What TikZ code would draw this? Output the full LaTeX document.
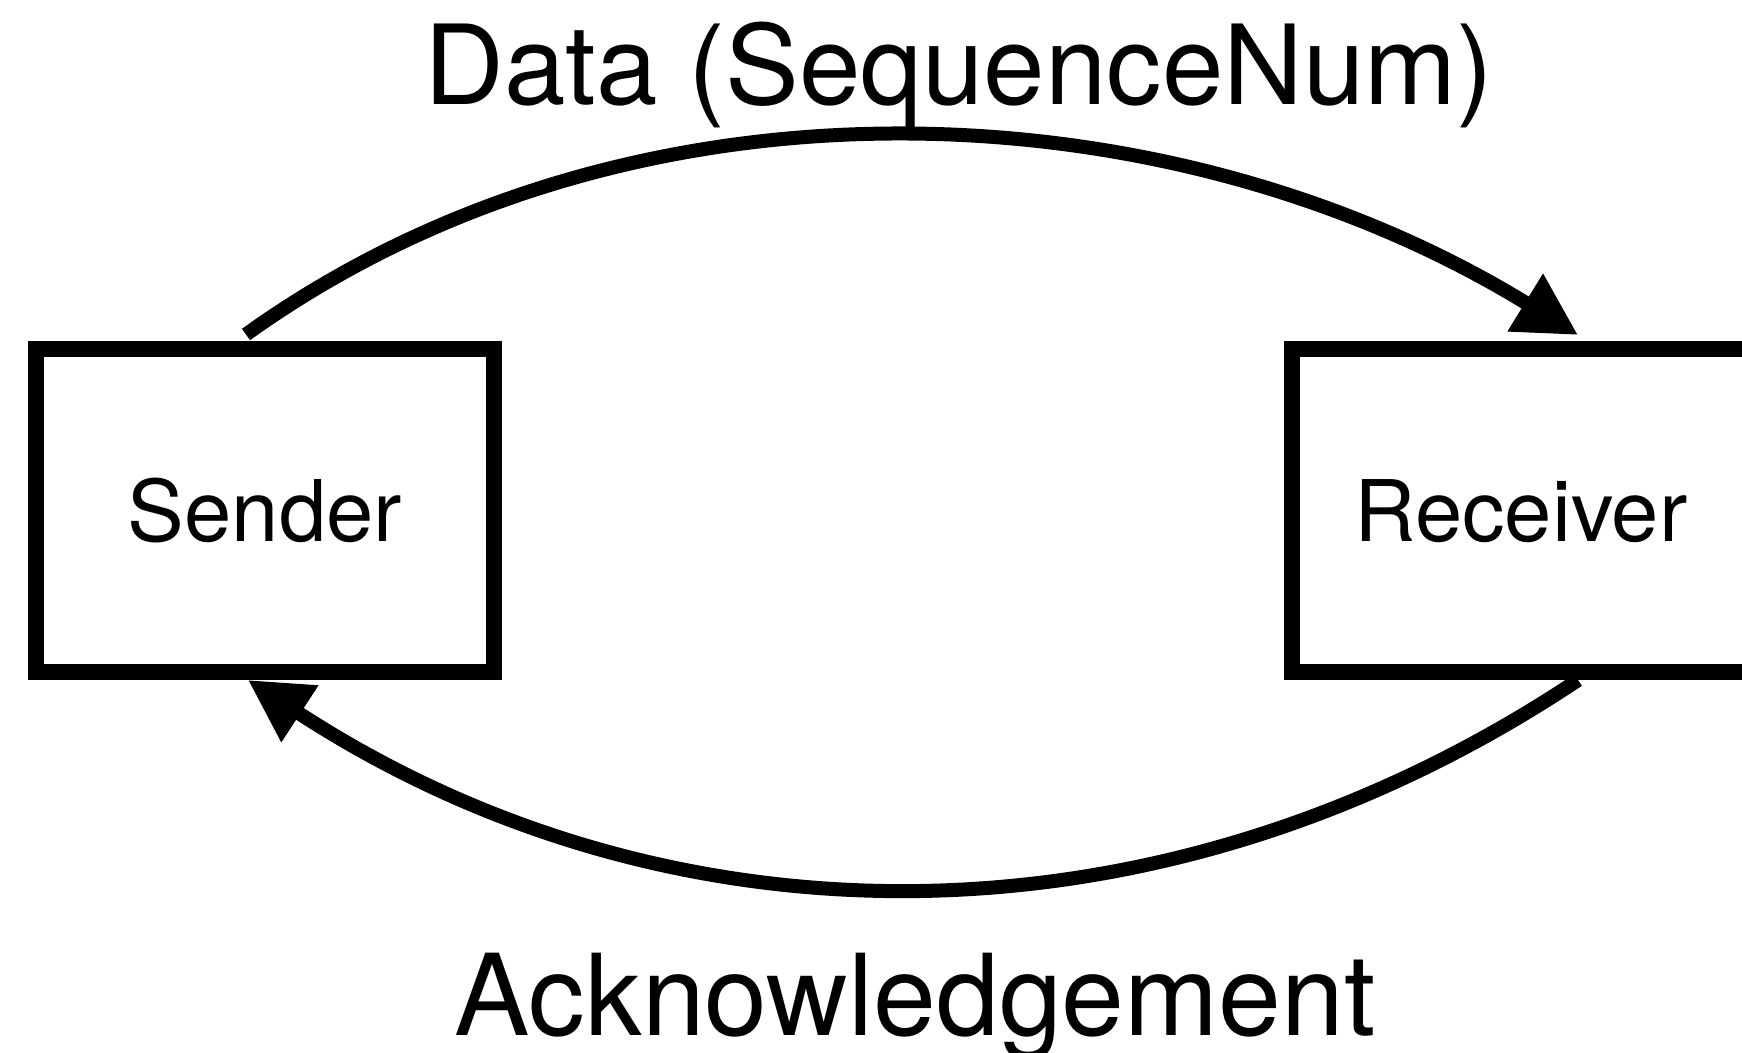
\documentclass[tikz,border=0pt]{standalone}
\usepackage{fontspec}
\setmainfont{TeX Gyre Heros}
\usetikzlibrary{arrows.meta,calc}
\tikzset{
  boxnode/.style={draw=black, line width=16pt, minimum width=458pt, minimum height=323pt,
    inner sep=0pt, text height=62pt, text depth=0pt, font=\fontsize{85}{100}\selectfont},
  flow/.style={line width=14pt, -{Triangle[length=62pt,width=64pt]}},
  biglabel/.style={anchor=base, inner sep=0pt}
}
\begin{document}
\begin{tikzpicture}[x=1pt,y=1pt]
\clip (0,0) rectangle (1742,1052);
\node[boxnode] (sender) at (265,541.5) {Sender};
\node[boxnode] (receiver) at (1521,541.5) {Receiver};
\coordinate (dstart) at ($(sender.north)+(-19,6.5)$);
\coordinate (dend) at ($(receiver.north)+(57,6)$);
\coordinate (astart) at ($(receiver.south)+(57,0)$);
\coordinate (aend) at ($(sender.south)+(-17,0)$);
\draw[flow] (dstart) .. controls (633,995) and (1173,966) .. (dend);
\draw[flow] (astart) .. controls (1161,94) and (668,98) .. (aend);
\node[biglabel, font=\fontsize{110.5}{130}\selectfont] (datalabel) at (959,947) {Data (SequenceNum)};
\node[biglabel, font=\fontsize{113}{130}\selectfont] (acklabel) at (915,17) {Acknowledgement};
\end{tikzpicture}
\end{document}
